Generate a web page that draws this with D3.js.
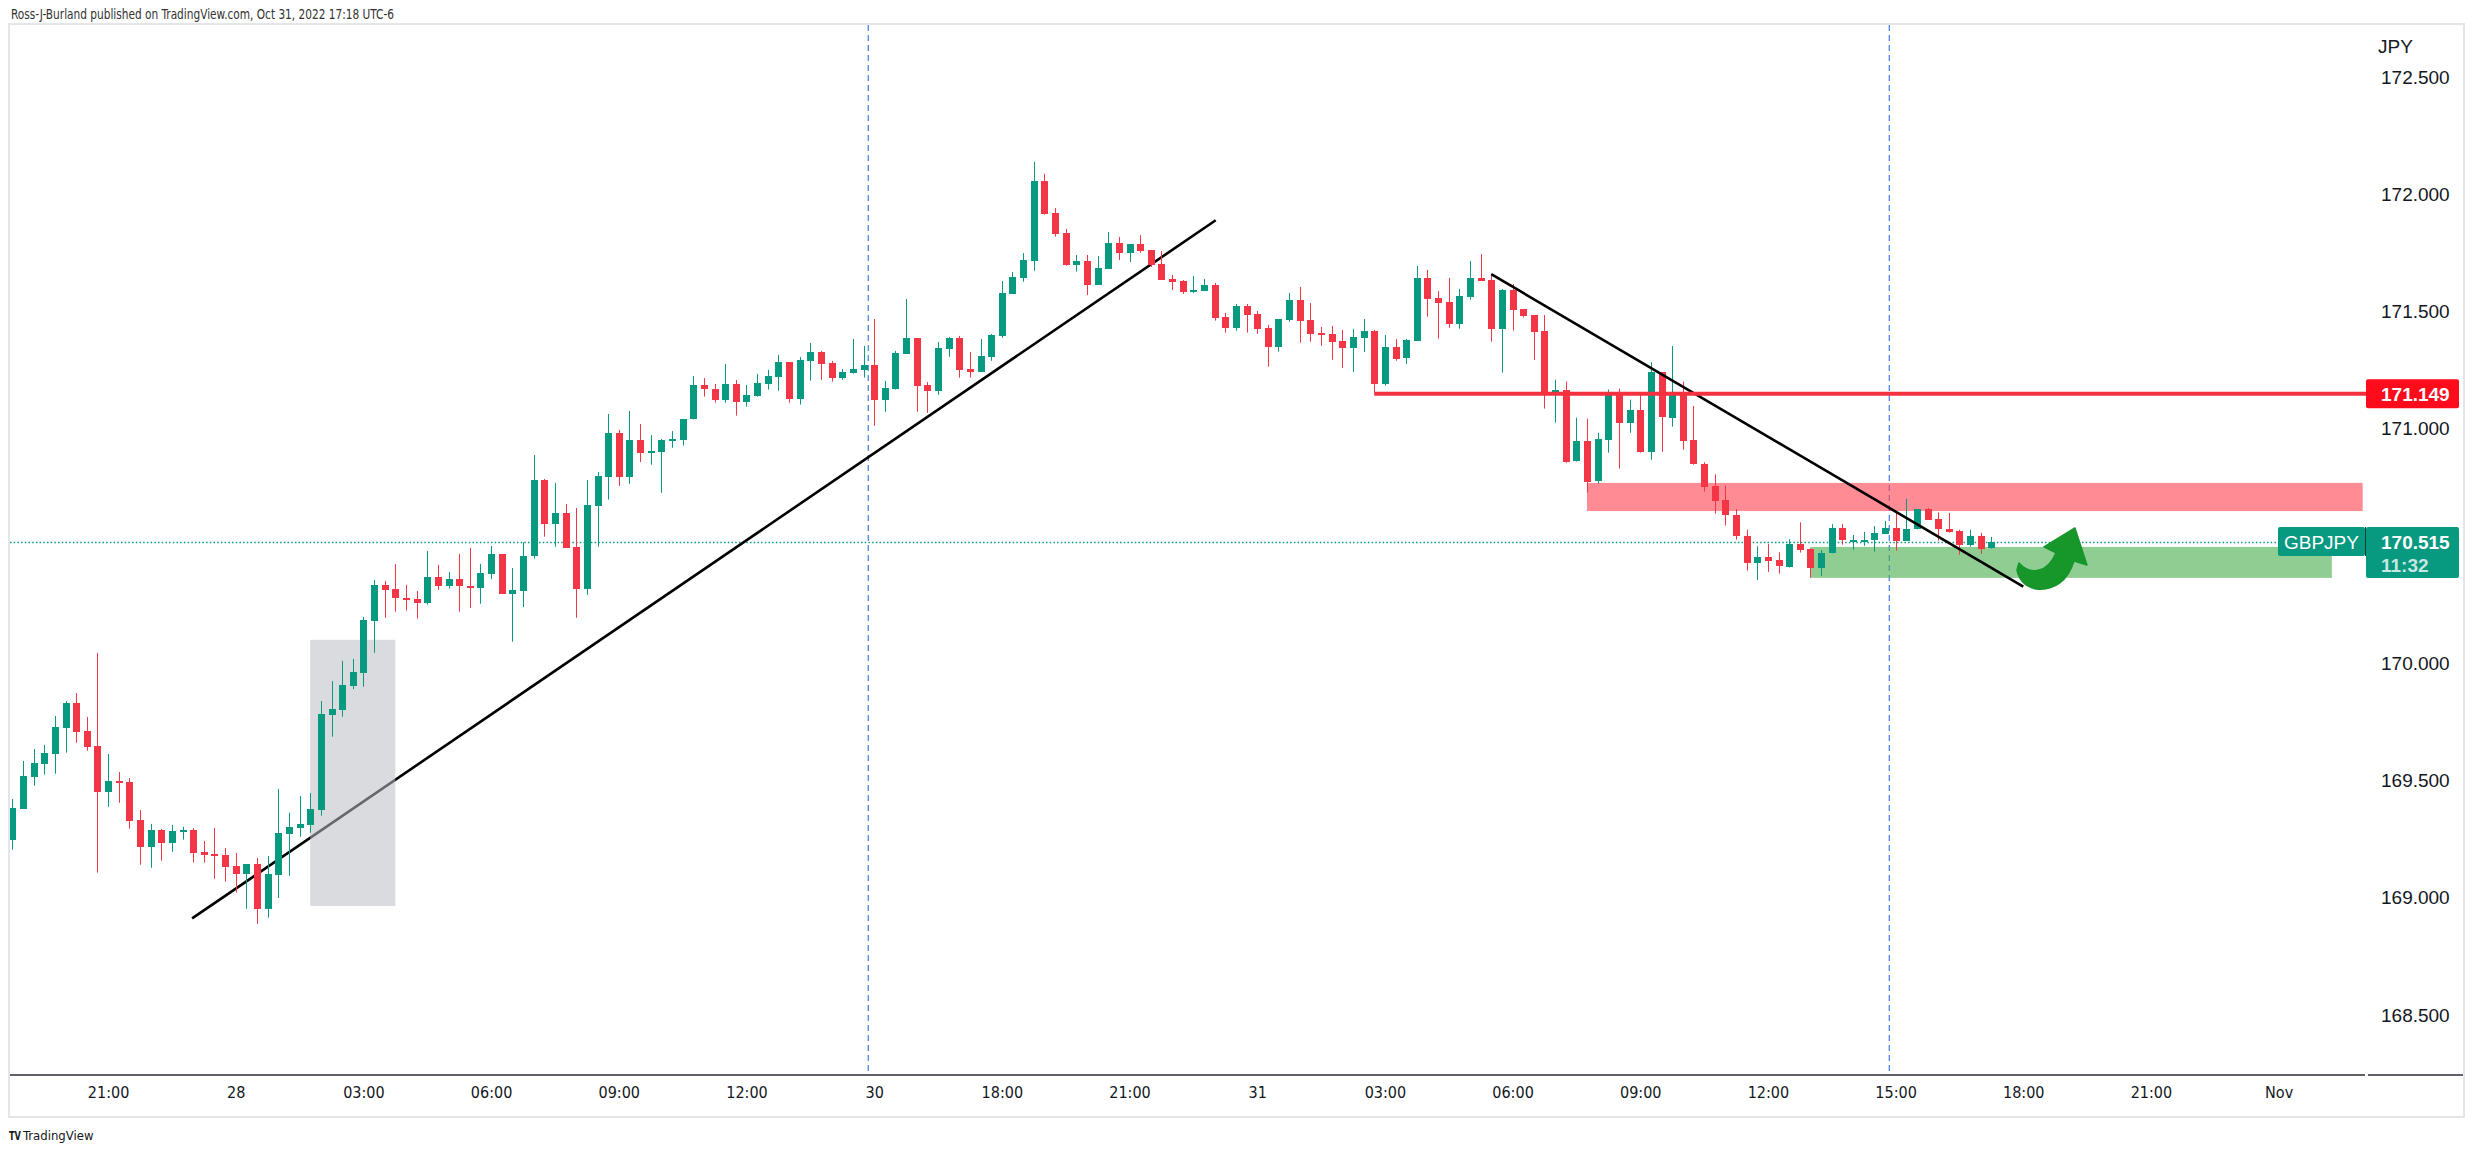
<!DOCTYPE html>
<html><head><meta charset="utf-8"><title>GBPJPY 15m</title>
<script src="https://cdn.jsdelivr.net/npm/d3@7/dist/d3.min.js"></script>
<style>html,body{margin:0;padding:0;background:#fff;overflow:hidden}svg{display:block}</style>
</head><body><svg id="chart" width="2474" height="1154"></svg>
<script>
// ---------- DATA (15-minute GBPJPY candles, bar index 0 = Oct 27 18:45 UTC-6) ----------
const opens = [169.245,169.380,169.516,169.572,169.614,169.725,169.831,169.711,169.647,169.452,
169.498,169.494,169.332,169.218,169.289,169.235,169.282,169.289,169.195,169.187,
169.182,169.135,169.103,169.144,168.953,169.098,169.273,169.299,169.312,169.375,
169.781,169.802,169.904,169.960,170.181,170.334,170.315,170.278,170.274,170.258,
170.367,170.327,170.358,170.328,170.322,170.382,170.466,170.297,170.310,170.455,
170.781,170.594,170.641,170.496,170.317,170.672,170.796,170.982,170.796,170.952,
170.898,170.902,170.949,170.952,171.040,171.185,171.170,171.124,171.191,171.115,
171.141,171.192,171.222,171.285,171.128,171.290,171.327,171.280,171.218,171.239,
171.252,171.272,171.124,171.171,171.320,171.387,171.187,171.162,171.341,171.387,
171.255,171.243,171.307,171.397,171.576,171.644,171.717,172.057,171.920,171.835,
171.698,171.715,171.613,171.681,171.792,171.750,171.788,171.762,171.703,171.639,
171.630,171.583,171.587,171.613,171.477,171.431,171.524,171.489,171.430,171.350,
171.465,171.549,171.464,171.408,171.404,171.374,171.346,171.388,171.417,171.192,
171.349,171.303,171.375,171.643,171.558,171.541,171.448,171.563,171.643,171.634,
171.427,171.592,171.511,171.485,171.417,171.154,171.167,170.860,170.947,170.774,
170.953,171.156,171.022,171.079,170.898,171.241,171.047,171.158,170.951,170.849,
170.756,170.695,170.631,170.541,170.425,170.452,170.439,170.412,170.509,170.486,
170.403,170.469,170.576,170.522,170.522,170.523,170.552,170.577,170.523,170.571,
170.657,170.614,170.573,170.564,170.504,170.543,170.489];
const highs = [169.421,169.583,169.634,169.651,169.775,169.839,169.873,169.771,170.044,169.613,
169.536,169.511,169.374,169.315,169.293,169.311,169.303,169.297,169.242,169.297,
169.212,169.191,169.144,169.170,169.178,169.464,169.363,169.434,169.447,169.839,
169.924,170.010,170.018,170.197,170.355,170.351,170.423,170.334,170.308,170.479,
170.419,170.389,170.467,170.492,170.424,170.500,170.466,170.406,170.516,170.888,
170.786,170.769,170.679,170.662,170.781,170.816,171.063,170.995,171.076,171.020,
170.973,170.956,170.990,171.042,171.225,171.216,171.191,171.276,171.208,171.187,
171.234,171.251,171.315,171.285,171.306,171.366,171.332,171.289,171.255,171.383,
171.353,171.468,171.204,171.332,171.553,171.387,171.199,171.370,171.391,171.396,
171.327,171.383,171.404,171.630,171.668,171.749,172.138,172.087,171.941,171.852,
171.741,171.741,171.737,171.839,171.818,171.788,171.826,171.762,171.758,171.656,
171.634,171.651,171.639,171.622,171.494,171.532,171.532,171.502,171.443,171.468,
171.579,171.605,171.536,171.434,171.438,171.421,171.425,171.468,171.421,171.400,
171.383,171.383,171.694,171.677,171.587,171.643,171.596,171.715,171.745,171.660,
171.596,171.617,171.511,171.485,171.485,171.209,171.201,171.047,171.043,170.983,
171.167,171.171,171.124,171.154,171.284,171.241,171.353,171.201,171.097,170.857,
170.806,170.757,170.658,170.570,170.499,170.509,170.473,170.529,170.601,170.490,
170.482,170.593,170.593,170.547,170.560,170.585,170.607,170.645,170.701,170.657,
170.662,170.644,170.641,170.569,170.569,170.556,170.539];
const lows = [169.205,169.380,169.478,169.525,169.529,169.619,169.661,169.627,169.107,169.388,
169.405,169.295,169.141,169.128,169.158,169.196,169.248,169.150,169.150,169.081,
169.069,169.022,168.953,168.889,168.915,168.999,169.094,169.260,169.277,169.350,
169.687,169.772,169.890,169.900,170.045,170.194,170.220,170.224,170.190,170.251,
170.313,170.318,170.220,170.236,170.254,170.359,170.297,170.092,170.240,170.446,
170.540,170.497,170.493,170.194,170.292,170.497,170.698,170.756,170.766,170.858,
170.847,170.727,170.919,170.928,171.040,171.137,171.111,171.111,171.056,171.094,
171.137,171.167,171.162,171.111,171.103,171.205,171.209,171.201,171.209,171.235,
171.218,171.013,171.073,171.167,171.320,171.073,171.068,171.145,171.307,171.218,
171.218,171.243,171.290,171.388,171.576,171.627,171.674,171.913,171.819,171.695,
171.670,171.570,171.613,171.681,171.720,171.711,171.750,171.690,171.634,171.592,
171.575,171.579,171.587,171.461,171.410,171.418,171.410,171.405,171.265,171.329,
171.456,171.367,171.371,171.354,171.294,171.260,171.243,171.327,171.154,171.184,
171.290,171.277,171.375,171.478,171.384,171.431,171.427,171.550,171.631,171.371,
171.239,171.418,171.474,171.294,171.086,171.026,170.855,170.860,170.727,170.766,
170.898,170.830,170.983,170.898,170.868,170.902,171.009,170.911,170.847,170.732,
170.638,170.587,170.527,170.395,170.355,170.390,170.382,170.408,170.472,170.365,
170.373,170.469,170.506,170.484,170.501,170.476,170.552,170.480,170.523,170.571,
170.612,170.523,170.557,170.463,170.497,170.467,170.489];
const closes = [169.381,169.519,169.575,169.617,169.728,169.831,169.708,169.644,169.452,169.498,
169.491,169.329,169.218,169.289,169.235,169.285,169.289,169.192,169.184,169.179,
169.132,169.103,169.144,168.953,169.101,169.276,169.302,169.315,169.379,169.784,
169.805,169.907,169.962,170.184,170.334,170.314,170.275,170.271,170.258,170.367,
170.327,170.358,170.327,170.322,170.385,170.466,170.297,170.313,170.458,170.781,
170.594,170.641,170.493,170.317,170.675,170.799,170.982,170.796,170.952,170.898,
170.905,170.952,170.956,171.040,171.185,171.167,171.124,171.191,171.115,171.144,
171.195,171.225,171.285,171.128,171.293,171.327,171.277,171.218,171.242,171.255,
171.272,171.124,171.174,171.323,171.387,171.184,171.162,171.344,171.387,171.252,
171.243,171.310,171.400,171.579,171.647,171.720,172.057,171.917,171.832,171.698,
171.715,171.613,171.686,171.792,171.750,171.788,171.758,171.698,171.634,171.626,
171.583,171.592,171.613,171.474,171.431,171.524,171.486,171.427,171.350,171.468,
171.549,171.461,171.405,171.401,171.371,171.346,171.391,171.417,171.192,171.349,
171.299,171.378,171.643,171.555,171.538,171.448,171.566,171.643,171.631,171.427,
171.592,171.508,171.482,171.414,171.154,171.167,170.860,170.947,170.774,170.955,
171.156,171.022,171.079,170.898,171.241,171.047,171.143,170.949,170.847,170.753,
170.693,170.629,170.540,170.425,170.452,170.437,170.412,170.509,170.484,170.403,
170.469,170.576,170.523,170.526,170.526,170.554,170.577,170.523,170.573,170.657,
170.612,170.570,170.561,170.504,170.543,170.489,170.515];

// time axis (bar index -> label)
const timeTickIdx = [9,21,33,45,57,69,81,93,105,117,129,141,153,165,177,189,201,213];
const timeTickLabels = ["21:00","28","03:00","06:00","09:00","12:00","30","18:00","21:00","31","03:00","06:00","09:00","12:00","15:00","18:00","21:00","Nov"];
// price axis
const priceTicks = [172.5,172.0,171.5,171.0,170.0,169.5,169.0,168.5];
const priceTickLabels = ["172.500","172.000","171.500","171.000","170.000","169.500","169.000","168.500"];

// drawings (in bar-index / price units)
const zoneIdx    = [[28,36],[148,220.9],[169,218]];
const zonePrices = [[170.10,168.965],[170.769,170.649],[170.496,170.364]];
const trendIdx    = [[16.9,113.1],[139,189]];
const trendPrices = [[168.912,171.889],[171.659,170.327]];
const levelIdx = [128,220.9];
const levelPrice = 171.149;
const sessionIdx = [80.45,176.41];
const arrowAnchor = [188.5,170.415];
const lastPrice = 170.515;
const symbol = "GBPJPY";
const countdown = "11:32";
const header = "Ross-J-Burland published on TradingView.com, Oct 31, 2022 17:18 UTC-6";

// ---------- LAYOUT ----------
const plot = {l:10, t:25, r:2366, b:1075};
const UP = "#089981", DOWN = "#f23645";
const svg = d3.select("#chart");
const x = d3.scaleLinear().domain([0,221]).range([12.3, 12.3 + 221*10.64]);
const y = d3.scaleLinear().domain([172.5,168.5]).range([77,1015]);

svg.append("rect").attr("width",2474).attr("height",1154).attr("fill","#fff");
svg.append("defs").append("clipPath").attr("id","clip").append("rect")
  .attr("x",plot.l).attr("y",plot.t).attr("width",plot.r-plot.l).attr("height",plot.b-plot.t);

// frame
svg.append("rect").attr("x",9).attr("y",24).attr("width",2455).attr("height",1093)
  .attr("fill","none").attr("stroke","#e4e6ec").attr("stroke-width",2);

// header
svg.append("text").attr("x",11).attr("y",19).text(header)
  .attr("font-family","'Liberation Sans Narrow','DejaVu Sans Condensed',sans-serif")
  .attr("font-size",13.5).attr("fill","#333").attr("textLength",383).attr("lengthAdjust","spacingAndGlyphs");

const gp = svg.append("g").attr("clip-path","url(#clip)");

// session dashed verticals
gp.selectAll(".sess").data(sessionIdx).join("line")
  .attr("x1",d=>x(d)).attr("x2",d=>x(d)).attr("y1",plot.t).attr("y2",plot.b)
  .attr("stroke","#4f86ea").attr("stroke-width",1.3).attr("stroke-dasharray","6,4");

// last price dotted line
gp.append("line").attr("x1",plot.l).attr("x2",2278).attr("y1",y(lastPrice)).attr("y2",y(lastPrice))
  .attr("stroke",UP).attr("stroke-width",1.3).attr("stroke-dasharray","1.5,2.2");

// ascending trend line (under the grey zone)
gp.append("line").attr("x1",x(trendIdx[0][0])).attr("y1",y(trendPrices[0][0]))
  .attr("x2",x(trendIdx[0][1])).attr("y2",y(trendPrices[0][1]))
  .attr("stroke","#000").attr("stroke-width",2.6);

// zones
const zoneFill = ["rgba(188,190,196,0.55)","rgba(255,68,82,0.62)","rgba(76,175,80,0.62)"];
gp.selectAll(".zone").data(zoneIdx).join("rect")
  .attr("x",(d)=>x(d[0])).attr("width",d=>x(d[1])-x(d[0]))
  .attr("y",(d,i)=>y(zonePrices[i][0])).attr("height",(d,i)=>y(zonePrices[i][1])-y(zonePrices[i][0]))
  .attr("fill",(d,i)=>zoneFill[i]);

// candles
const bars = d3.range(opens.length);
const col = i => closes[i] >= opens[i] ? UP : DOWN;
gp.selectAll(".wick").data(bars).join("rect")
  .attr("x",i=>Math.round(x(i))).attr("width",1)
  .attr("y",i=>y(highs[i])).attr("height",i=>Math.max(1,y(lows[i])-y(highs[i])))
  .attr("fill",col);
gp.selectAll(".body").data(bars).join("rect")
  .attr("x",i=>Math.round(x(i))-3).attr("width",7)
  .attr("y",i=>Math.round(y(Math.max(opens[i],closes[i]))))
  .attr("height",i=>Math.max(2,Math.round(Math.abs(y(opens[i])-y(closes[i])))))
  .attr("fill",col);

// descending trend line
gp.append("line").attr("x1",x(trendIdx[1][0])).attr("y1",y(trendPrices[1][0]))
  .attr("x2",x(trendIdx[1][1])).attr("y2",y(trendPrices[1][1]))
  .attr("stroke","#000").attr("stroke-width",2.6);

// horizontal level
gp.append("line").attr("x1",x(levelIdx[0])).attr("x2",plot.r).attr("y1",y(levelPrice)).attr("y2",y(levelPrice))
  .attr("stroke","#f5303f").attr("stroke-width",4);

// curved arrow
const ax = x(arrowAnchor[0]), ay = y(arrowAnchor[1]);
svg.append("path").attr("transform",`translate(${ax},${ay})`)
  .attr("d","M38,-13 L26,-19 L57,-38 L69,-1 L56,-5 C50,15 36,25 18,23 C8,21 1,14 -1,4 L1,-3 C12,9 29,8 38,-13 Z")
  .attr("fill","#17962a").attr("stroke","#17962a").attr("stroke-width",1.5).attr("stroke-linejoin","round");

// time axis
svg.append("line").attr("x1",plot.l).attr("x2",plot.r-1).attr("y1",plot.b).attr("y2",plot.b)
  .attr("stroke","#2a2e39").attr("stroke-width",1.5);
svg.append("line").attr("x1",plot.r+2).attr("x2",2463).attr("y1",plot.b).attr("y2",plot.b)
  .attr("stroke","#2a2e39").attr("stroke-width",1.5);
const xAxis = d3.axisBottom(x).tickValues(timeTickIdx).tickFormat((d,i)=>timeTickLabels[i]).tickSize(0).tickPadding(12);
svg.append("g").attr("transform",`translate(0,${plot.b})`).call(xAxis)
  .attr("font-family","'Liberation Sans Narrow','DejaVu Sans Condensed',sans-serif").attr("font-size",16)
  .call(g=>g.select(".domain").remove())
  .selectAll("text").attr("fill","#131722");

// price axis
const yAxis = d3.axisRight(y).tickValues(priceTicks).tickFormat((d,i)=>priceTickLabels[i]).tickSize(0).tickPadding(0);
svg.append("g").attr("transform","translate(2381,0)").call(yAxis)
  .attr("font-family","'Liberation Sans',Arial,sans-serif").attr("font-size",19)
  .call(g=>g.select(".domain").remove())
  .selectAll("text").attr("fill","#131722");
svg.append("text").attr("x",2378).attr("y",53).text("JPY")
  .attr("font-family","'Liberation Sans',Arial,sans-serif").attr("font-size",19).attr("fill","#131722");

// level label
svg.append("rect").attr("x",2366).attr("y",y(levelPrice)-14.5).attr("width",93).attr("height",29).attr("rx",2).attr("fill","#fe0b1c");
svg.append("text").attr("x",2381).attr("y",y(levelPrice)).attr("dy","0.36em").text(levelPrice.toFixed(3))
  .attr("font-family","'Liberation Sans',Arial,sans-serif").attr("font-size",19).attr("font-weight","bold").attr("fill","#fff");

// symbol + last price labels
const ly = y(lastPrice);
svg.append("rect").attr("x",2278).attr("y",ly-15.5).attr("width",87).attr("height",29).attr("rx",2).attr("fill",UP);
svg.append("text").attr("x",2321.5).attr("y",ly).attr("dy","0.36em").attr("text-anchor","middle").text(symbol)
  .attr("font-family","'Liberation Sans',Arial,sans-serif").attr("font-size",19).attr("fill","#fff");
svg.append("line").attr("x1",2365.5).attr("x2",2365.5).attr("y1",ly-15.5).attr("y2",ly+13.5).attr("stroke","#0b3d33").attr("stroke-width",1);
svg.append("rect").attr("x",2366).attr("y",ly-15.5).attr("width",93).attr("height",51).attr("rx",2).attr("fill",UP);
svg.append("text").attr("x",2381).attr("y",ly).attr("dy","0.36em").text(lastPrice.toFixed(3))
  .attr("font-family","'Liberation Sans',Arial,sans-serif").attr("font-size",19).attr("font-weight","bold").attr("fill","#fff");
svg.append("text").attr("x",2381).attr("y",ly+23).attr("dy","0.36em").text(countdown)
  .attr("font-family","'Liberation Sans',Arial,sans-serif").attr("font-size",19).attr("font-weight","bold").attr("fill","rgba(255,255,255,0.78)");

// TradingView logo
svg.append("text").attr("x",9).attr("y",1140).text("TV")
  .attr("font-family","'DejaVu Sans',sans-serif").attr("font-weight","bold").attr("font-size",12).attr("fill","#131722")
  .attr("textLength",12).attr("lengthAdjust","spacingAndGlyphs");
svg.append("text").attr("x",23).attr("y",1140).text("TradingView")
  .attr("font-family","'Liberation Sans Narrow','DejaVu Sans Condensed',sans-serif").attr("font-size",13).attr("fill","#131722");
</script></body></html>
